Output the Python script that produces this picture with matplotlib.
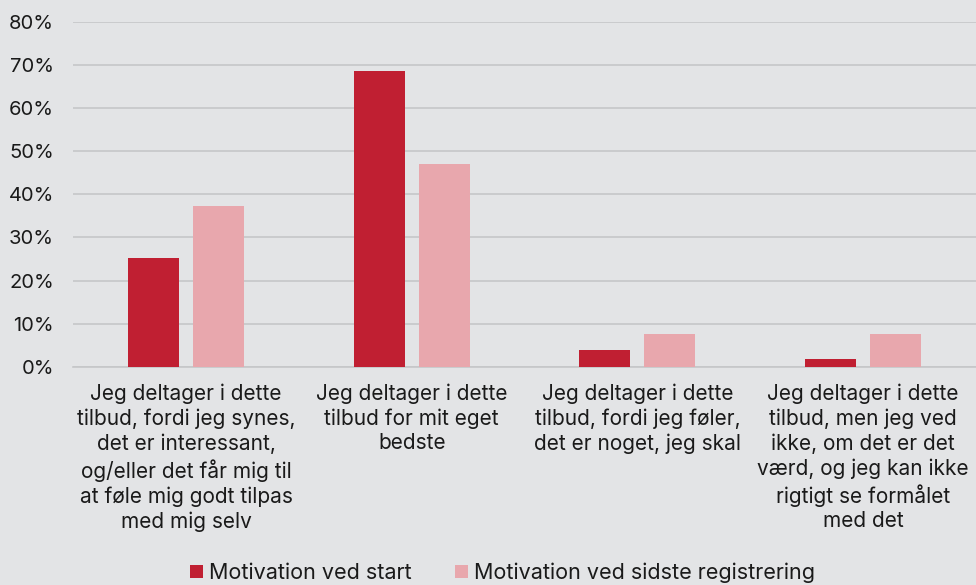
import numpy as np
import matplotlib.pyplot as plt

plt.rcParams['font.family'] = ['Inter', 'DejaVu Sans']

categories = [
    "Jeg deltager i dette\ntilbud, fordi jeg synes,\ndet er interessant,\nog/eller det får mig til\nat føle mig godt tilpas\nmed mig selv",
    "Jeg deltager i dette\ntilbud for mit eget\nbedste",
    "Jeg deltager i dette\ntilbud, fordi jeg føler,\ndet er noget, jeg skal",
    "Jeg deltager i dette\ntilbud, men jeg ved\nikke, om det er det\nværd, og jeg kan ikke\nrigtigt se formålet\nmed det",
]
start = [25.3, 68.6, 3.8, 1.9]
last = [37.2, 47.0, 7.7, 7.7]
series_names = ["Motivation ved start", "Motivation ved sidste registrering"]

bg = "#e3e4e6"
red = "#c01f32"
pink = "#e8a7ad"

fig = plt.figure(figsize=(9.76, 5.85), dpi=100, facecolor=bg)
ax = fig.add_axes([0.075, 0.373, 0.925, 0.59])
ax.set_facecolor(bg)

x = np.arange(len(categories))
w = 0.226
gap = 0.062
ax.bar(x - (w + gap) / 2, start, w, color=red, label=series_names[0], zorder=3)
ax.bar(x + (w + gap) / 2, last, w, color=pink, label=series_names[1], zorder=3)

ax.set_xlim(-0.5, len(categories) - 0.5)
ax.set_ylim(0, 80)
ax.set_yticks(range(0, 81, 10))
ax.set_yticklabels([f"{v}%" for v in range(0, 81, 10)], fontsize=14.5, color="#1a1a1a")
ax.yaxis.grid(True, color="#c6c7c9", linewidth=1.2, zorder=0)
ax.set_xticks(x)
ax.set_xticklabels(categories, fontsize=15, color="#1a1a1a", linespacing=1.27)
ax.tick_params(axis="both", length=0)
ax.tick_params(axis="x", pad=12)
ax.tick_params(axis="y", pad=14)
for s in ["top", "right", "left"]:
    ax.spines[s].set_visible(False)
ax.spines["bottom"].set_color("#c6c7c9")
ax.spines["bottom"].set_linewidth(1.2)

fig.legend(loc="lower center", bbox_to_anchor=(0.515, -0.03), ncol=2, frameon=False,
           fontsize=15.5, handlelength=0.6, handleheight=0.6, handletextpad=0.3,
           columnspacing=2.0, labelcolor="#1a1a1a")

fig.savefig("out.png", dpi=100, facecolor=bg)
